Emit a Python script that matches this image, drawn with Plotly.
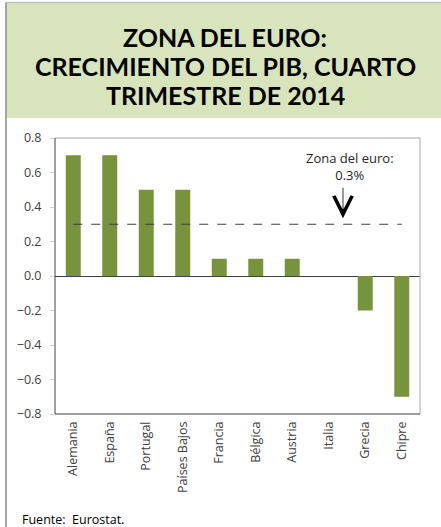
import plotly.graph_objects as go

categories = ["Alemania", "España", "Portugal", "Países Bajos", "Francia",
              "Bélgica", "Austria", "Italia", "Grecia", "Chipre"]
growth = [0.7, 0.7, 0.5, 0.5, 0.1, 0.1, 0.1, 0.0, -0.2, -0.7]
euro_area = 0.3
y_ticks = [0.8, 0.6, 0.4, 0.2, 0.0, -0.2, -0.4, -0.6, -0.8]
title_lines = ["ZONA DEL EURO:", "CRECIMIENTO DEL PIB, CUARTO", "TRIMESTRE DE 2014"]

W, H = 441, 527
L, R, T, B = 55, 21, 138, 113
pw, ph = W - L - R, H - T - B

def px(xp):
    return (xp - L) / pw

def py(yp):
    return (H - B - yp) / ph

fig = go.Figure()
fig.add_trace(go.Bar(x=categories, y=growth, marker_color="#77933c",
                     marker_line_width=0, width=0.41))
fig.add_trace(go.Scatter(x=[categories[0], categories[-1]], y=[euro_area, euro_area],
                         mode="lines", line=dict(color="#404040", width=1, dash="dash")))

font = "'Open Sans', sans-serif"
fig.update_layout(
    width=W, height=H, margin=dict(l=L, r=R, t=T, b=B, pad=0),
    paper_bgcolor="white", plot_bgcolor="white", showlegend=False,
    font=dict(family=font, color="#404040", size=12),
    bargap=0.59,
    xaxis=dict(type="category", tickangle=-90, showgrid=False, ticks="",
               tickfont=dict(size=12.5, color="#404040"), showline=False,
               ticklabelstandoff=4),
    yaxis=dict(range=[-0.8, 0.8], tickvals=y_ticks, tickformat=".1f", showgrid=False,
               zeroline=True, zerolinecolor="#404040", zerolinewidth=1,
               ticks="outside", ticklen=4, tickcolor="#d0d0d0",
               tickfont=dict(size=12.5, color="#404040"), showline=False,
               ticklabelstandoff=6),
)

shapes = [
    dict(type="rect", xref="paper", yref="paper", x0=px(6), x1=px(441), y0=py(118), y1=py(3),
         fillcolor="#d8e4bc", line=dict(width=0), layer="below"),
    dict(type="line", xref="paper", yref="paper", x0=px(6), x1=px(441), y0=py(2.5), y1=py(2.5),
         line=dict(color="#bfbfbf", width=1.5)),
    dict(type="line", xref="paper", yref="paper", x0=px(6), x1=px(6), y0=py(2.5), y1=py(527),
         line=dict(color="#a6a6a6", width=2)),
    dict(type="line", xref="paper", yref="paper", x0=0, x1=1, y0=1, y1=1, line=dict(color="#a6a6a6", width=1)),
    dict(type="line", xref="paper", yref="paper", x0=1, x1=1, y0=0, y1=1, line=dict(color="#a6a6a6", width=1)),
    dict(type="line", xref="paper", yref="paper", x0=0, x1=0, y0=0, y1=1, line=dict(color="#404040", width=1)),
    dict(type="line", xref="paper", yref="paper", x0=0, x1=1, y0=0, y1=0, line=dict(color="#404040", width=1)),
]
fig.update_layout(shapes=shapes)

for i, line in enumerate(title_lines):
    fig.add_annotation(xref="paper", yref="paper", x=px(225), y=py(37 + 29 * i), yanchor="middle",
                       text="<b>" + line + "</b>", showarrow=False,
                       font=dict(family="Lato, sans-serif", size=25, color="black"))
fig.add_annotation(xref="x", yref="paper", x=7.58, y=py(166), yanchor="middle",
                   text="Zona del euro:<br>0.3%", showarrow=False,
                   font=dict(family=font, size=13, color="#262626"), align="center")
fig.add_annotation(xref="x", yref="y", x=7.39, y=0.335, ax=7.39, ay=0.52,
                   axref="x", ayref="y", text="", showarrow=True,
                   arrowhead=5, arrowsize=4.5, arrowwidth=0.8, arrowcolor="black")
fig.add_annotation(xref="paper", yref="paper", x=px(20), y=py(519), xanchor="left", yanchor="middle",
                   text="Fuente:  Eurostat.", showarrow=False,
                   font=dict(family=font, size=12.5, color="black"))

fig.write_html("out.html", config={"displayModeBar": False, "staticPlot": True},
               post_script="document.body.style.margin='0';document.body.style.overflow='hidden';")
